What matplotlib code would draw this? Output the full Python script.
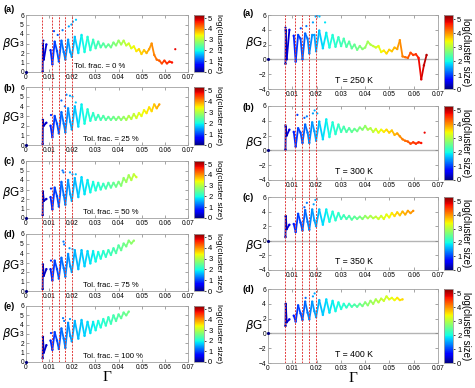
import numpy as np
import matplotlib
matplotlib.use('Agg')
import matplotlib.pyplot as plt
from matplotlib.collections import LineCollection
from matplotlib.colors import Normalize
from matplotlib.cm import ScalarMappable

plt.rcParams['font.family'] = ['Liberation Sans', 'DejaVu Sans']

# ---------------- data ----------------
GAMMA = [0.0072, 0.0073, 0.0077, 0.0088, 0.0097, 0.0106, 0.0114, 0.0124, 0.0134, 0.0142,
         0.0153, 0.0163, 0.0170, 0.0182, 0.0191, 0.0198, 0.0211, 0.0226, 0.0240, 0.0253,
         0.0266, 0.0278, 0.0290, 0.0301, 0.0312, 0.0323, 0.0334, 0.0345, 0.0356, 0.0367,
         0.0378, 0.0389, 0.0400, 0.0411, 0.0422, 0.0433, 0.0444, 0.0455, 0.0466, 0.0477,
         0.0488, 0.0499, 0.0510, 0.0521, 0.0532, 0.0543, 0.0554, 0.0565, 0.0576, 0.0587,
         0.0598, 0.0609, 0.0620, 0.0631, 0.0642, 0.0653]
NAN = float('nan')
ORIGIN = (0.0, 0.0)
RED_LINES = [0.0071, 0.0113, 0.0141, 0.0169, 0.0197]

# Left column: tolerance fraction
LA_BG = [0.05, 3.0, 1.3, 2.9, NAN, 2.3, 0.8, 3.2, 2.2, 1.1, 3.3, 2.1, 1.3, 3.4, 2.1, 1.6, 3.7, 2.0,
         3.9, 2.1, 3.7, 2.3, 3.4, 2.5, 3.2, 2.6, 3.0, 2.6, 2.9, 2.6, 3.1, 2.8, 3.3, 2.9, 3.3, 2.8,
         3.0, 2.5, 2.7, 2.2, 2.4, 1.9, 2.3, 2.0, 2.4, 3.0, 1.8, 1.3, 1.2, 0.9, 1.2, 0.9, 1.1, 1.0]
LA_SIZE = [0.2, 0.2, 0.3, 0.5, 0.6, 0.8, 0.9, 1.0, 1.05, 1.1, 1.2, 1.3, 1.35, 1.45, 1.5, 1.55,
           1.65, 1.8, 1.9, 2.0, 2.05, 2.1, 2.2, 2.25, 2.3, 2.35, 2.4, 2.45, 2.5, 2.55, 2.65, 2.7,
           2.8, 2.9, 3.0, 3.1, 3.2, 3.3, 3.4, 3.5, 3.6, 3.65, 3.7, 3.8, 3.9, 4.0, 4.1, 4.2, 4.3,
           4.4, 4.5, 4.55, 4.6, 4.7]
LA_OUT_G = [0.0075, 0.0121, 0.0137, 0.0158, 0.0185, 0.0196, 0.0203, 0.0216, 0.0645]
LA_OUT_B = [3.3, 4.3, 3.9, 4.4, 4.8, 5.0, 5.3, 5.5, 2.4]
LA_OUT_S = [0.3, 1.0, 1.1, 1.3, 1.5, 1.55, 1.6, 1.7, 4.8]

LB_BG = [0.1, 2.6, 2.0, 2.3, NAN, 2.0, 0.8, 3.0, 2.2, 1.2, 3.4, 2.2, 1.3, 3.8, 2.4, 1.6, 4.0, 1.9,
         4.2, 2.2, 3.7, 2.5, 3.3, 2.6, 3.1, 2.6, 3.0, 2.6, 2.9, 2.6, 2.9, 2.6, 2.9, 2.6, 2.9, 2.6,
         3.0, 2.7, 3.2, 2.8, 3.3, 3.0, 3.6, 3.3, 3.9, 3.5, 4.2, 3.8, 4.2]
LB_SIZE = [0.2, 0.2, 0.3, 0.4, 0.6, 0.8, 0.9, 1.0, 1.05, 1.1, 1.2, 1.3, 1.35, 1.45, 1.5, 1.55,
           1.65, 1.8, 1.9, 2.0, 2.05, 2.1, 2.15, 2.2, 2.25, 2.3, 2.35, 2.4, 2.45, 2.5, 2.55, 2.6,
           2.7, 2.75, 2.8, 2.9, 3.0, 3.05, 3.1, 3.2, 3.3, 3.35, 3.4, 3.5, 3.55, 3.6, 3.7, 3.8, 3.9]
LB_OUT_G = [0.0108, 0.0153, 0.0168, 0.0175, 0.0190, 0.0201, 0.0215]
LB_OUT_B = [3.1, 4.6, 4.0, 5.2, 5.1, 5.0, 4.4]
LB_OUT_S = [0.9, 1.2, 1.3, 1.4, 1.5, 1.6, 1.7]

LC_BG = [0.3, 2.8, 1.8, 2.0, NAN, 2.2, 0.9, 3.2, 2.3, 1.2, 3.8, 2.4, 1.4, 4.0, 2.5, 1.8, 4.2, 2.2,
         4.3, 2.5, 4.0, 2.7, 3.8, 2.9, 3.7, 3.0, 3.6, 3.1, 3.7, 3.2, 3.7, 3.3, 3.8, 3.4, 4.2, 3.8,
         4.5, 4.0, 4.6, 4.3]
LC_SIZE = [0.2, 0.2, 0.3, 0.4, 0.6, 0.8, 0.9, 1.0, 1.05, 1.1, 1.2, 1.3, 1.35, 1.45, 1.5, 1.55,
           1.6, 1.7, 1.8, 1.85, 1.9, 1.95, 2.0, 2.05, 2.1, 2.15, 2.2, 2.3, 2.35, 2.4, 2.5, 2.55,
           2.6, 2.7, 2.8, 2.85, 2.9, 3.0, 3.1, 3.2]
LC_OUT_G = [0.0108, 0.0158, 0.0162, 0.0190, 0.0201, 0.0215]
LC_OUT_B = [3.1, 5.0, 4.8, 4.8, 4.6, 4.6]
LC_OUT_S = [0.9, 1.25, 1.3, 1.5, 1.6, 1.65]

LD_BG = [0.2, 2.8, 1.6, 2.3, NAN, 2.3, 1.1, 3.2, 2.3, 1.3, 3.5, 2.4, 1.5, 3.9, 2.6, 2.0, 4.3, 2.3,
         4.3, 2.6, 4.2, 2.9, 4.2, 3.1, 4.1, 3.4, 4.2, 3.6, 4.3, 3.8, 4.5, 4.0, 4.8, 4.3, 5.0, 4.7,
         5.3, 5.0, 5.3]
LD_SIZE = [0.2, 0.2, 0.3, 0.4, 0.6, 0.8, 0.9, 1.0, 1.05, 1.1, 1.2, 1.3, 1.35, 1.4, 1.45, 1.5,
           1.6, 1.65, 1.7, 1.75, 1.8, 1.85, 1.9, 1.95, 2.0, 2.05, 2.1, 2.15, 2.2, 2.25, 2.3, 2.35,
           2.4, 2.5, 2.55, 2.6, 2.7, 2.75, 2.8]
LD_OUT_G = [0.0108, 0.0162, 0.0165, 0.0188, 0.0201]
LD_OUT_B = [3.2, 5.2, 4.9, 4.5, 4.4]
LD_OUT_S = [0.9, 1.3, 1.3, 1.45, 1.55]

LE_BG = [0.4, 2.7, 1.0, 1.8, NAN, 2.3, 1.3, 3.2, 2.3, 1.4, 3.6, 2.5, 1.5, 4.2, 2.8, 2.2, 4.4, 2.5,
         4.5, 2.8, 4.3, 3.1, 4.3, 3.4, 4.4, 3.7, 4.6, 3.9, 4.8, 4.1, 5.0, 4.4, 5.1, 4.7, 5.3, 5.0,
         5.4]
LE_SIZE = [0.2, 0.2, 0.3, 0.4, 0.6, 0.8, 0.9, 1.0, 1.05, 1.1, 1.2, 1.3, 1.35, 1.4, 1.45, 1.5,
           1.6, 1.65, 1.7, 1.75, 1.8, 1.85, 1.9, 1.95, 2.0, 2.05, 2.1, 2.15, 2.2, 2.25, 2.3, 2.35,
           2.4, 2.45, 2.5, 2.55, 2.6]
LE_OUT_G = [0.0108, 0.0160, 0.0165, 0.0190]
LE_OUT_B = [3.1, 4.7, 4.4, 4.6]
LE_OUT_S = [0.9, 1.3, 1.3, 1.45]

# Right column: temperature
RA_BG = [-0.6, 4.0, 0.0, 4.0, NAN, 3.2, -0.3, 3.3, 2.8, 0.0, 3.5, 2.8, 0.8, 3.3, 3.3, 1.1, 3.9, 1.5,
         3.6, 1.6, 3.3, 1.7, 3.0, 1.8, 2.8, 1.7, 2.4, 1.5, 2.0, 1.3, 1.8, 1.4, 1.6, 2.4, 2.0, 1.8,
         1.6, 1.8, 1.0, 1.2, 0.8, 1.3, 1.1, 1.6, 1.4, 2.6, 0.4, 0.3, 0.2, 0.9, 0.6, 0.7, 0.2, -2.7,
         -0.8, 0.6]
RA_SIZE = [0.2, 0.2, 0.3, 0.5, 0.6, 0.8, 0.9, 1.0, 1.05, 1.1, 1.2, 1.3, 1.35, 1.45, 1.5, 1.55,
           1.65, 1.8, 1.9, 2.0, 2.05, 2.1, 2.2, 2.25, 2.3, 2.35, 2.4, 2.45, 2.5, 2.55, 2.65, 2.7,
           2.8, 2.9, 3.0, 3.1, 3.2, 3.3, 3.4, 3.5, 3.6, 3.65, 3.7, 3.8, 3.9, 4.0, 4.1, 4.2, 4.3,
           4.4, 4.5, 4.55, 4.7, 4.85, 4.95, 5.05]
RA_OUT_G = [0.0072, 0.0074, 0.0135, 0.0158, 0.0185, 0.0196, 0.0203, 0.0212, 0.0235]
RA_OUT_B = [4.3, 3.8, 4.2, 4.5, 5.0, 5.8, 6.0, 5.8, 5.0]
RA_OUT_S = [0.2, 0.2, 1.05, 1.3, 1.5, 1.55, 1.6, 1.65, 1.85]

RB_BG = [0.1, 3.2, 2.0, 2.8, NAN, 2.5, 0.5, 3.0, 2.4, 1.0, 3.5, 2.4, 1.0, 3.8, 2.6, 1.3, 3.9, 1.5,
         4.2, 1.8, 3.8, 2.2, 3.5, 2.5, 3.2, 2.5, 3.0, 2.5, 2.9, 2.6, 3.1, 2.8, 3.3, 2.8, 3.0, 2.5,
         2.9, 2.4, 2.8, 2.5, 2.8, 2.4, 2.7, 2.1, 2.3, 1.9, 1.5, 1.3, 1.2, 0.9, 1.1, 0.9, 1.1, 1.0]
RB_SIZE = [0.2, 0.2, 0.3, 0.5, 0.6, 0.8, 0.9, 1.0, 1.05, 1.1, 1.2, 1.3, 1.35, 1.45, 1.5, 1.55,
           1.65, 1.8, 1.9, 2.0, 2.05, 2.1, 2.2, 2.25, 2.3, 2.35, 2.4, 2.45, 2.5, 2.55, 2.65, 2.7,
           2.8, 2.9, 3.0, 3.1, 3.2, 3.3, 3.4, 3.5, 3.6, 3.65, 3.7, 3.8, 3.9, 4.0, 4.1, 4.2, 4.3,
           4.4, 4.5, 4.55, 4.6, 4.7]
RB_OUT_G = [0.0072, 0.0121, 0.0150, 0.0160, 0.0185, 0.0192, 0.0203, 0.0645]
RB_OUT_B = [3.4, 4.8, 4.4, 4.6, 5.0, 5.4, 5.0, 2.4]
RB_OUT_S = [0.2, 1.0, 1.2, 1.3, 1.5, 1.55, 1.6, 4.8]

RC_BG = [0.5, 3.4, 1.6, 2.2, NAN, 2.3, 1.2, 3.7, 2.5, 1.4, 4.2, 2.6, 1.5, 4.3, 2.8, 2.0, 4.3, 2.2,
         4.3, 2.6, 4.0, 2.8, 3.8, 3.0, 3.5, 3.0, 3.4, 2.9, 3.3, 3.0, 3.3, 3.0, 3.4, 3.1, 3.4, 3.1,
         3.3, 3.0, 3.4, 3.0, 3.6, 3.2, 3.8, 3.4, 3.9, 3.5, 4.0, 3.6, 4.1, 3.8, 4.1]
RC_SIZE = [0.2, 0.2, 0.3, 0.5, 0.6, 0.8, 0.9, 1.0, 1.05, 1.1, 1.2, 1.3, 1.35, 1.45, 1.5, 1.55,
           1.65, 1.8, 1.9, 2.0, 2.05, 2.1, 2.15, 2.2, 2.25, 2.3, 2.35, 2.4, 2.45, 2.5, 2.6, 2.7,
           2.8, 2.9, 2.95, 3.0, 3.1, 3.15, 3.2, 3.3, 3.35, 3.4, 3.5, 3.6, 3.65, 3.7, 3.8, 3.85,
           3.9, 3.95, 4.0]
RC_OUT_G = [0.0150, 0.0160, 0.0188, 0.0195]
RC_OUT_B = [4.6, 5.2, 5.0, 5.6]
RC_OUT_S = [1.2, 1.3, 1.5, 1.55]

RD_BG = [1.0, 4.0, 1.5, 1.9, NAN, 2.4, 1.6, 3.8, 2.7, 1.8, 4.3, 2.8, 1.9, 4.3, 3.0, 2.2, 4.5, 2.5,
         4.6, 2.8, 4.4, 3.0, 4.2, 3.3, 4.0, 3.5, 4.0, 3.6, 3.9, 3.6, 4.0, 3.7, 4.2, 3.8, 4.4, 4.0,
         4.6, 4.2, 4.7, 4.4, 5.0, 4.6, 4.8, 4.5, 4.8, 4.5, 4.6]
RD_SIZE = [0.2, 0.2, 0.3, 0.5, 0.6, 0.8, 0.9, 1.0, 1.05, 1.1, 1.2, 1.3, 1.35, 1.45, 1.5, 1.55,
           1.6, 1.7, 1.8, 1.85, 1.9, 1.95, 2.0, 2.05, 2.1, 2.15, 2.2, 2.3, 2.35, 2.4, 2.5, 2.6,
           2.7, 2.75, 2.8, 2.9, 2.95, 3.0, 3.1, 3.15, 3.2, 3.3, 3.35, 3.4, 3.5, 3.55, 3.6]
RD_OUT_G = [0.0155, 0.0185, 0.0192]
RD_OUT_B = [4.8, 5.0, 5.4]
RD_OUT_S = [1.25, 1.5, 1.55]

LEFT_TEXT = ['Tol. frac. = 0 %', 'Tol. frac. = 25 %', 'Tol. frac. = 50 %',
             'Tol. frac. = 75 %', 'Tol. frac. = 100 %']
RIGHT_TEXT = ['T = 250 K', 'T = 300 K', 'T = 350 K', 'T = 400 K']
PANEL_LABELS_LEFT = ['(a)', '(b)', '(c)', '(d)', '(e)']
PANEL_LABELS_RIGHT = ['(a)', '(b)', '(c)', '(d)']
X_TICKS = [0, 0.01, 0.02, 0.03, 0.04, 0.05, 0.06, 0.07]
X_TICKLABELS = ['0', '0.01', '0.02', '0.03', '0.04', '0.05', '0.06', '0.07']

# ---------------- drawing ----------------
W, H = 475, 388
fig = plt.figure(figsize=(W / 100, H / 100), dpi=100)
cmap = plt.get_cmap('jet')
norm = Normalize(0, 5.3)
SPINE = '#a0a0a0'
TICK_FS = 4.8


def px_axes(x0, y0, x1, y1):
    return fig.add_axes([x0 / W, 1 - y1 / H, (x1 - x0) / W, (y1 - y0) / H])


def draw(ax, bg, size, og, ob, osz):
    n = len(bg)
    g = np.array(GAMMA[:n])
    b = np.array(bg, float)
    s = np.array(size[:n], float)
    segs, cols = [], []
    for i in range(n - 1):
        if np.isfinite(b[i]) and np.isfinite(b[i + 1]):
            segs.append([(g[i], b[i]), (g[i + 1], b[i + 1])])
            cols.append((s[i] + s[i + 1]) / 2)
    lc = LineCollection(segs, cmap=cmap, norm=norm, linewidths=1.3, zorder=3)
    lc.set_array(np.array(cols))
    ax.add_collection(lc)
    ok = np.isfinite(b)
    ax.scatter(g[ok], b[ok], c=s[ok], cmap=cmap, norm=norm, s=3, linewidths=0, zorder=4)
    ax.scatter(og, ob, c=osz, cmap=cmap, norm=norm, s=2.5, linewidths=0, zorder=4)
    ax.scatter([ORIGIN[0]], [ORIGIN[1]], c=[0.0], cmap=cmap, norm=norm, s=5,
               linewidths=0, zorder=5, clip_on=False)


def style(ax, ylim, yticks):
    ax.set_xlim(0, 0.07)
    ax.set_ylim(*ylim)
    ax.set_xticks(X_TICKS)
    ax.set_xticklabels(X_TICKLABELS)
    ax.set_yticks(yticks)
    ax.set_yticklabels([('\u2212' + str(-t)) if t < 0 else str(t) for t in yticks])
    ax.tick_params(direction='in', length=2, width=0.5, labelsize=TICK_FS, pad=1.5,
                   color='#808080', top=True, right=True)
    for sp in ax.spines.values():
        sp.set_color(SPINE)
        sp.set_linewidth(0.6)


def cbar(x0, x1, y0, y1, label_fs):
    cax = px_axes(x0, y0, x1, y1)
    cb = fig.colorbar(ScalarMappable(norm=norm, cmap=cmap), cax=cax)
    cb.set_ticks([0, 1, 2, 3, 4, 5])
    cb.ax.tick_params(labelsize=5.5, length=1.5, width=0.5, pad=1.5)
    cb.outline.set_edgecolor(SPINE)
    cb.outline.set_linewidth(0.6)
    cb.set_label('log(cluster size)', rotation=270, fontsize=label_fs, labelpad=7)


left_data = [(LA_BG, LA_SIZE, LA_OUT_G, LA_OUT_B, LA_OUT_S),
             (LB_BG, LB_SIZE, LB_OUT_G, LB_OUT_B, LB_OUT_S),
             (LC_BG, LC_SIZE, LC_OUT_G, LC_OUT_B, LC_OUT_S),
             (LD_BG, LD_SIZE, LD_OUT_G, LD_OUT_B, LD_OUT_S),
             (LE_BG, LE_SIZE, LE_OUT_G, LE_OUT_B, LE_OUT_S)]
right_data = [(RA_BG, RA_SIZE, RA_OUT_G, RA_OUT_B, RA_OUT_S),
              (RB_BG, RB_SIZE, RB_OUT_G, RB_OUT_B, RB_OUT_S),
              (RC_BG, RC_SIZE, RC_OUT_G, RC_OUT_B, RC_OUT_S),
              (RD_BG, RD_SIZE, RD_OUT_G, RD_OUT_B, RD_OUT_S)]

LEFT_BOX = [(15, 72), (87, 145), (161, 218), (234, 291), (306, 362)]
LEFT_LABEL_Y = [9.5, 88.5, 161.5, 234.5, 306.5]
LEFT_YLAB = [0.5, 0.47, 0.44, 0.44, 0.5]
LEFT_TEXT_X = [0.0207, 0.0247, 0.0247, 0.0247, 0.0247]
for i, (top, bot) in enumerate(LEFT_BOX):
    ax = px_axes(26, top, 188, bot)
    draw(ax, *left_data[i])
    style(ax, (0, 6), [0, 1, 2, 3, 4, 5, 6])
    ax.set_ylabel(r'$\beta$G', rotation=0, fontsize=8.5, va='center', ha='center')
    ax.yaxis.set_label_coords(-0.095, LEFT_YLAB[i])
    ax.text(LEFT_TEXT_X[i], 0.55, LEFT_TEXT[i], fontsize=5.6, va='center', ha='left')
    fig.text(3 / W, 1 - LEFT_LABEL_Y[i] / H, PANEL_LABELS_LEFT[i], fontsize=6.5,
             fontweight='bold', va='center', ha='left')
    cbar(194, 204, top, bot, 6.0)
    if i == len(LEFT_BOX) - 1:
        ax.set_xlabel('\u0393', fontsize=11, family='Liberation Serif', labelpad=0)

RIGHT_BOX = [(15, 89), (106, 180), (197, 270), (289, 363)]
RIGHT_LABEL_Y = [13.5, 107, 198, 289]
RIGHT_YLAB = [0.62, 0.5, 0.33, 0.5]
for i, (top, bot) in enumerate(RIGHT_BOX):
    ax = px_axes(268, top, 438, bot)
    ax.axhline(0, color='#b4b4b4', lw=1.0, zorder=1)
    draw(ax, *right_data[i])
    style(ax, (-4, 6), [-4, -2, 0, 2, 4, 6])
    ax.set_ylabel(r'$\beta$G', rotation=0, fontsize=8.5, va='center', ha='center')
    ax.yaxis.set_label_coords(-0.085, RIGHT_YLAB[i])
    ax.text(0.0353, -2.9, RIGHT_TEXT[i], fontsize=6.3, va='center', ha='center')
    fig.text(243 / W, 1 - RIGHT_LABEL_Y[i] / H, PANEL_LABELS_RIGHT[i], fontsize=6.5,
             fontweight='bold', va='center', ha='left')
    cbar(444, 453, top, bot, 7.0)
    if i == len(RIGHT_BOX) - 1:
        ax.set_xlabel('\u0393', fontsize=11, family='Liberation Serif', labelpad=0)

# red dashed guide lines across each column
for (x0, x1, y0, y1) in [(26, 188, 15, 362), (268, 438, 15, 363)]:
    ov = px_axes(x0, y0, x1, y1)
    ov.set_xlim(0, 0.07)
    ov.set_ylim(0, 1)
    ov.axis('off')
    ov.patch.set_alpha(0)
    for xv in RED_LINES:
        ov.axvline(xv, color='#e23a3a', lw=0.7, ls=(0, (2.0, 1.3)), zorder=10)

fig.savefig('out.png', dpi=100)
